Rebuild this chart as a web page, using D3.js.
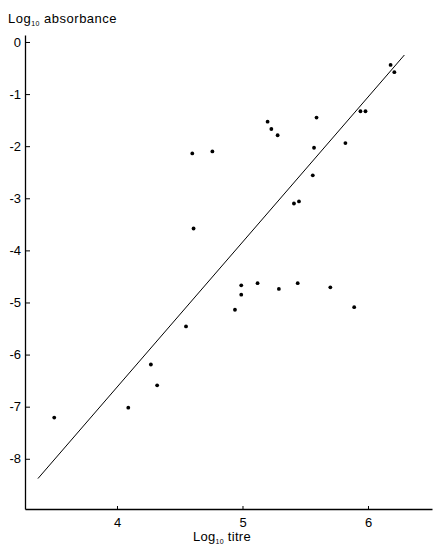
<!DOCTYPE html>
<html>
<head>
<meta charset="utf-8">
<script src="https://cdn.jsdelivr.net/npm/d3@7"></script>
<style>
  html, body { margin: 0; padding: 0; background: #fff; }
  svg { display: block; font-family: "Liberation Sans", Arial, sans-serif; }
</style>
</head>
<body>
<svg id="chart" width="434" height="550"></svg>
<script>
// Data
const logTitre = [3.50, 4.09, 4.27, 4.32, 4.55, 4.60, 4.61, 4.76, 4.94, 4.99, 4.99, 5.12, 5.29, 5.44, 5.70, 5.89,
                  5.20, 5.23, 5.28, 5.59, 5.57, 5.56, 5.41, 5.45, 5.82, 5.94, 5.98, 6.18, 6.21];
const logAbsorbance = [-7.21, -7.02, -6.19, -6.59, -5.46, -2.14, -3.58, -2.10, -5.14, -4.85, -4.67, -4.63, -4.74, -4.63, -4.71, -5.09,
                  -1.53, -1.67, -1.79, -1.45, -2.03, -2.56, -3.10, -3.06, -1.94, -1.33, -1.33, -0.44, -0.58];
const fitX = [3.37, 6.29];
const fitY = [-8.38, -0.25];
const xTicks = [4, 5, 6];
const yTicks = [0, -1, -2, -3, -4, -5, -6, -7, -8];

const svg = d3.select("#chart");
const x = d3.scaleLinear().domain([3.267, 6.51]).range([25, 432]);
const y = d3.scaleLinear().domain([0.134, -8.964]).range([35, 509]);

// axes
const yAxis = d3.axisLeft(y).tickValues(yTicks).tickSizeInner(-5).tickSizeOuter(0).tickPadding(4)
  .tickFormat(d => d === 0 ? "0" : "-" + (-d));
const gy = svg.append("g").attr("transform", `translate(${x.range()[0]},0)`).call(yAxis);
gy.select(".domain").attr("stroke", "#000").attr("stroke-width", 1.3);
gy.selectAll("text").attr("font-size", 13).attr("fill", "#000");

const xAxis = d3.axisBottom(x).tickValues(xTicks).tickSizeInner(-3).tickSizeOuter(0).tickPadding(9)
  .tickFormat(d => String(d));
const gx = svg.append("g").attr("transform", `translate(0,${y.range()[1]})`).call(xAxis);
gx.select(".domain").attr("stroke", "#000").attr("stroke-width", 1.3);
gx.selectAll("text").attr("font-size", 13).attr("fill", "#000");

// fit line
svg.append("line")
  .attr("x1", x(fitX[0])).attr("y1", y(fitY[0]))
  .attr("x2", x(fitX[1])).attr("y2", y(fitY[1]))
  .attr("stroke", "#000").attr("stroke-width", 1);

// points
svg.append("g").selectAll("circle")
  .data(logTitre.map((t, i) => [t, logAbsorbance[i]]))
  .join("circle")
  .attr("cx", d => x(d[0])).attr("cy", d => y(d[1]))
  .attr("r", 1.9).attr("fill", "#000");

// titles
const t1 = svg.append("text").attr("x", 8).attr("y", 23).attr("font-size", 13)
  .attr("letter-spacing", 0.5).attr("fill", "#000");
t1.append("tspan").text("Log");
t1.append("tspan").attr("font-size", 7).attr("dy", 3).text("10");
t1.append("tspan").attr("dy", -3).text(" absorbance");

const t2 = svg.append("text").attr("x", 222).attr("y", 541).attr("font-size", 13)
  .attr("letter-spacing", 0.3).attr("text-anchor", "middle").attr("fill", "#000");
t2.append("tspan").text("Log");
t2.append("tspan").attr("font-size", 7).attr("dy", 3).text("10");
t2.append("tspan").attr("dy", -3).text(" titre");
</script>
</body>
</html>
